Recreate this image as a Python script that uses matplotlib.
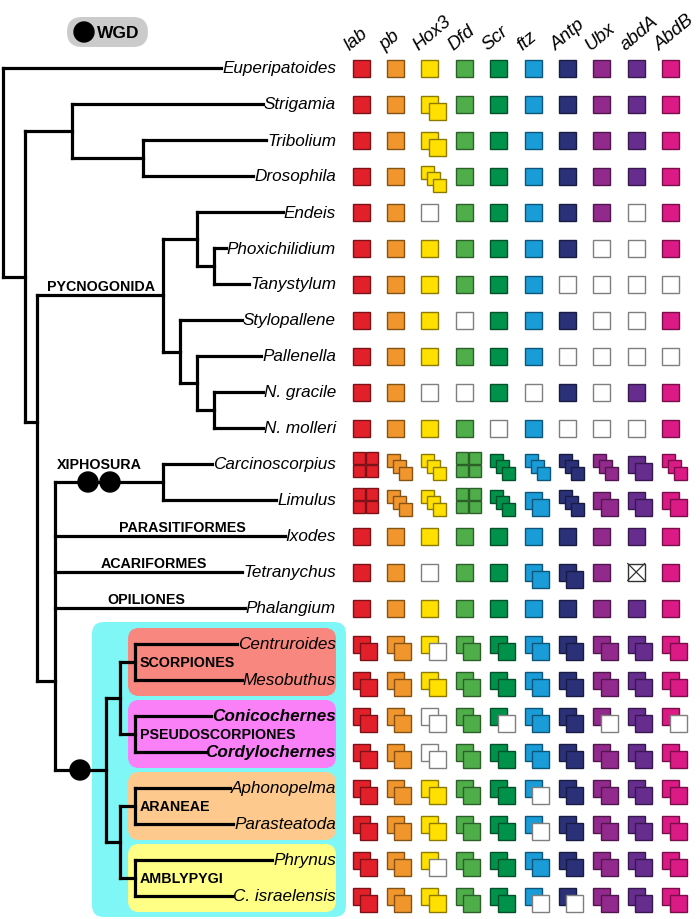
import matplotlib
matplotlib.use('Agg')
import matplotlib.pyplot as plt
from matplotlib.patches import Rectangle, Circle, FancyBboxPatch
from matplotlib.colors import to_rgb

plt.rcParams['font.family'] = ['Liberation Sans', 'DejaVu Sans']

# --- data ---
genes = ['lab', 'pb', 'Hox3', 'Dfd', 'Scr', 'ftz', 'Antp', 'Ubx', 'abdA', 'AbdB']
gene_colors = ['#e2202a', '#f0962c', '#ffe000', '#4fae4a', '#00924a',
               '#199cd8', '#2b3178', '#912a8c', '#662c8e', '#db1a86']

taxa = ['Euperipatoides', 'Strigamia', 'Tribolium', 'Drosophila', 'Endeis',
        'Phoxichilidium', 'Tanystylum', 'Stylopallene', 'Pallenella',
        'N. gracile', 'N. molleri', 'Carcinoscorpius', 'Limulus', 'Ixodes',
        'Tetranychus', 'Phalangium', 'Centruroides', 'Mesobuthus',
        'Conicochernes', 'Cordylochernes', 'Aphonopelma', 'Parasteatoda',
        'Phrynus', 'C. israelensis']
bold_taxa = ['Conicochernes', 'Cordylochernes']

# 1 = one copy, 0 = missing, 2/3/4 = copies, h = two copies (second missing),
# e = two copies both missing, x = uncertain
hox = ['1111111111', '1121111111', '1121111111', '1131111111',
       '1101111101', '1111111001', '1111110000', '1110111001',
       '1111110000', '1100101011', '1111010001', '4334333323',
       '4334323222', '1111111111', '11011221x1', '1111111111',
       '22h2222222', '2222222222', '22e2h22h2h', '22e2222222',
       '22222h2222', '22222h2222', '22h2222222', '22222hh222']

# internal nodes: name -> (x, children, join y override)
nodes = {
    'root': (3, ['Euperipatoides', 'Arthropoda'], None),
    'Arthropoda': (25, ['Mandibulata', 'Chelicerata'], None),
    'Mandibulata': (72, ['Strigamia', 'Insecta'], None),
    'Insecta': (143, ['Tribolium', 'Drosophila'], None),
    'Chelicerata': (37, ['PYCNOGONIDA', 'Euchelicerata'], 423),
    'PYCNOGONIDA': (163, ['Pyc1', 'Pyc2'], None),
    'Pyc1': (197, ['Endeis', 'Pyc3'], None),
    'Pyc3': (214, ['Phoxichilidium', 'Tanystylum'], None),
    'Pyc2': (180, ['Stylopallene', 'Pyc4'], None),
    'Pyc4': (197, ['Pallenella', 'Nymphon'], None),
    'Nymphon': (214, ['N. gracile', 'N. molleri'], None),
    'Euchelicerata': (55, ['XIPHOSURA', 'Ixodes', 'Tetranychus',
                           'Phalangium', 'Arachnopulmonata'], 682),
    'XIPHOSURA': (163, ['Carcinoscorpius', 'Limulus'], None),
    'Arachnopulmonata': (106, ['Ar1', 'Ar2'], None),
    'Ar1': (120, ['SCORPIONES', 'PSEUDOSCORPIONES'], None),
    'Ar2': (120, ['ARANEAE', 'AMBLYPYGI'], None),
    'SCORPIONES': (135, ['Centruroides', 'Mesobuthus'], None),
    'PSEUDOSCORPIONES': (135, ['Conicochernes', 'Cordylochernes'], None),
    'ARANEAE': (135, ['Aphonopelma', 'Parasteatoda'], None),
    'AMBLYPYGI': (135, ['Phrynus', 'C. israelensis'], None),
}

branch_labels = ['PYCNOGONIDA', 'XIPHOSURA', 'PARASITIFORMES', 'ACARIFORMES', 'OPILIONES']
branch_label_nodes = ['PYCNOGONIDA', 'XIPHOSURA', 'Ixodes', 'Tetranychus', 'Phalangium']
branch_label_x = [101, 99, 182, 154, 146]

boxed_clades = ['SCORPIONES', 'PSEUDOSCORPIONES', 'ARANEAE', 'AMBLYPYGI']
box_colors = ['#f7877f', '#fa80f8', '#fdc98c', '#ffff85']

wgd_branches = ['XIPHOSURA', 'XIPHOSURA', 'Arachnopulmonata']
wgd_x = [88, 110, 80]

# --- layout ---
row_y = {t: 69 + 36 * i for i, t in enumerate(taxa)}
col_x = [361 + 34.4 * j for j in range(len(genes))]
label_right = 336
lw = 2.3

fig = plt.figure(figsize=(7, 9.2), dpi=100)
ax = fig.add_axes([0, 0, 1, 1])
ax.set_xlim(0, 700)
ax.set_ylim(920, 0)
ax.axis('off')


def node_y(name):
    if name in row_y:
        return row_y[name]
    x, kids, join = nodes[name]
    if join is not None:
        return join
    ys = [node_y(k) for k in kids]
    return (min(ys) + max(ys)) / 2


# background boxes
top = row_y['Centruroides'] - 22
bot = row_y['C. israelensis'] + 21
ax.add_patch(FancyBboxPatch((92, top), 254, bot - top,
                            boxstyle='round,pad=0,rounding_size=12',
                            fc='#80f7f7', ec='none', zorder=0))
for clade, c in zip(boxed_clades, box_colors):
    kids = nodes[clade][1]
    t = row_y[kids[0]] - 16
    b = row_y[kids[-1]] + 16
    ax.add_patch(FancyBboxPatch((128, t), 208, b - t,
                                boxstyle='round,pad=0,rounding_size=11',
                                fc=c, ec='none', zorder=1))
    ax.text(140, node_y(clade), clade, fontsize=10.3, fontweight='bold',
            ha='left', va='center', zorder=5)

# tip labels
tip_start = {}
fig.canvas.draw()
renderer = fig.canvas.get_renderer()
for t in taxa:
    txt = ax.text(label_right, row_y[t], t, fontsize=12.3, style='italic',
                  fontweight='bold' if t in bold_taxa else 'normal',
                  ha='right', va='center', zorder=5)
    bb = txt.get_window_extent(renderer)
    tip_start[t] = bb.x0 - 1

# tree
line_kw = dict(color='black', lw=lw, solid_capstyle='projecting', zorder=3)
for name, (x, kids, join) in nodes.items():
    ys = [node_y(k) for k in kids]
    ax.plot([x, x], [min(ys), max(ys)], **line_kw)
    for k in kids:
        end = nodes[k][0] if k in nodes else tip_start[k]
        ax.plot([x, end], [node_y(k), node_y(k)], **line_kw)

for lab, nd, lx in zip(branch_labels, branch_label_nodes, branch_label_x):
    dy = 14 if nd == 'XIPHOSURA' else 5
    ax.text(lx, node_y(nd) - dy, lab, fontsize=10.3, fontweight='bold',
            ha='center', va='baseline', zorder=5)

for nd, wx in zip(wgd_branches, wgd_x):
    ax.add_patch(Circle((wx, node_y(nd)), 10, color='black', zorder=4))

# WGD legend
ax.add_patch(FancyBboxPatch((67, 18), 81, 30,
                            boxstyle='round,pad=0,rounding_size=15',
                            fc='#cbcbcb', ec='none', zorder=1))
ax.add_patch(Circle((84, 33), 10, color='black', zorder=2))
ax.text(97, 33.5, 'WGD', fontsize=12.5, fontweight='bold', ha='left',
        va='center', zorder=3)


# hox squares
def dark(c, f=0.55):
    r, g, b = to_rgb(c)
    return (r * f, g * f, b * f)


def square(x, y, s, fc, ec):
    ax.add_patch(Rectangle((x, y), s, s, fc=fc, ec=ec, lw=1.0, zorder=4))


empty_ec = '#7f7f7f'
for i, t in enumerate(taxa):
    cy = row_y[t]
    for j, code in enumerate(hox[i]):
        cx = col_x[j]
        fc = gene_colors[j]
        ec = dark(fc)
        x0, y0 = cx - 8.5, cy - 8.5
        if code == '1':
            square(x0, y0, 17, fc, ec)
        elif code == '0':
            square(x0, y0, 17, 'white', empty_ec)
        elif code == 'x':
            square(x0, y0, 17, 'white', '#333333')
            ax.plot([x0, x0 + 17], [y0, y0 + 17], color='#333333', lw=0.9, zorder=5)
            ax.plot([x0, x0 + 17], [y0 + 17, y0], color='#333333', lw=0.9, zorder=5)
        elif code in '2he':
            back = 'white' if code == 'e' else fc
            front = fc if code == '2' else 'white'
            square(x0, y0, 17, back, ec if back != 'white' else empty_ec)
            square(x0 + 7.5, y0 + 7.5, 17, front, ec if front != 'white' else empty_ec)
        elif code == '3':
            for k in range(3):
                square(x0 + 6 * k, y0 - 2 + 6.5 * k, 13, fc, ec)
        elif code == '4':
            for a in range(2):
                for b in range(2):
                    square(x0 + 13.5 * a, y0 - 4 + 13.5 * b, 12, fc, ec)

# column headers
for j, g in enumerate(genes):
    ax.text(col_x[j] - 11, 51, g, fontsize=13.5, style='italic', rotation=40,
            rotation_mode='anchor', ha='left', va='baseline')

fig.savefig('out.png', dpi=100)
